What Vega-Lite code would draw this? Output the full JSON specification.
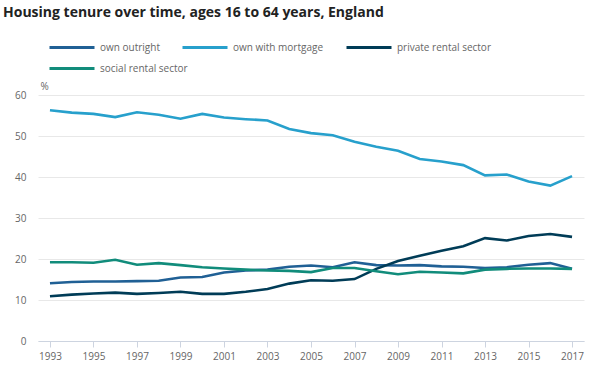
{
  "$schema": "https://vega.github.io/schema/vega-lite/v6.json",
  "width": 546,
  "height": 246,
  "autosize": "none",
  "padding": {"left": 38, "top": 95, "right": 18, "bottom": 34},
  "background": "white",
  "title": {
    "text": "Housing tenure over time, ages 16 to 64 years, England",
    "anchor": "start",
    "frame": "group",
    "font": "Open Sans",
    "fontSize": 14,
    "fontWeight": "bold",
    "color": "#222222",
    "dx": -35,
    "offset": 4
  },
  "config": {
    "view": {"stroke": null},
    "font": "Open Sans",
    "legend": {
      "title": null,
      "orient": "none",
      "direction": "horizontal",
      "columnPadding": 16,
      "symbolType": "stroke",
      "symbolSize": 2025,
      "symbolStrokeWidth": 3,
      "labelFont": "Open Sans",
      "labelFontSize": 10,
      "labelColor": "#666666",
      "labelOffset": 4
    }
  },
  "datasets": {
    "rows": [
      {"year": 1993, "tenure": "own outright", "pct": 14.1},
      {"year": 1994, "tenure": "own outright", "pct": 14.4},
      {"year": 1995, "tenure": "own outright", "pct": 14.5},
      {"year": 1996, "tenure": "own outright", "pct": 14.5},
      {"year": 1997, "tenure": "own outright", "pct": 14.6},
      {"year": 1998, "tenure": "own outright", "pct": 14.7},
      {"year": 1999, "tenure": "own outright", "pct": 15.5},
      {"year": 2000, "tenure": "own outright", "pct": 15.6},
      {"year": 2001, "tenure": "own outright", "pct": 16.7},
      {"year": 2002, "tenure": "own outright", "pct": 17.2},
      {"year": 2003, "tenure": "own outright", "pct": 17.4},
      {"year": 2004, "tenure": "own outright", "pct": 18.1},
      {"year": 2005, "tenure": "own outright", "pct": 18.4},
      {"year": 2006, "tenure": "own outright", "pct": 18.0},
      {"year": 2007, "tenure": "own outright", "pct": 19.2},
      {"year": 2008, "tenure": "own outright", "pct": 18.5},
      {"year": 2009, "tenure": "own outright", "pct": 18.4},
      {"year": 2010, "tenure": "own outright", "pct": 18.5},
      {"year": 2011, "tenure": "own outright", "pct": 18.2},
      {"year": 2012, "tenure": "own outright", "pct": 18.1},
      {"year": 2013, "tenure": "own outright", "pct": 17.8},
      {"year": 2014, "tenure": "own outright", "pct": 18.0},
      {"year": 2015, "tenure": "own outright", "pct": 18.6},
      {"year": 2016, "tenure": "own outright", "pct": 19.0},
      {"year": 2017, "tenure": "own outright", "pct": 17.6},
      {"year": 1993, "tenure": "own with mortgage", "pct": 56.3},
      {"year": 1994, "tenure": "own with mortgage", "pct": 55.7},
      {"year": 1995, "tenure": "own with mortgage", "pct": 55.4},
      {"year": 1996, "tenure": "own with mortgage", "pct": 54.6},
      {"year": 1997, "tenure": "own with mortgage", "pct": 55.8},
      {"year": 1998, "tenure": "own with mortgage", "pct": 55.2},
      {"year": 1999, "tenure": "own with mortgage", "pct": 54.2},
      {"year": 2000, "tenure": "own with mortgage", "pct": 55.4},
      {"year": 2001, "tenure": "own with mortgage", "pct": 54.5},
      {"year": 2002, "tenure": "own with mortgage", "pct": 54.1},
      {"year": 2003, "tenure": "own with mortgage", "pct": 53.8},
      {"year": 2004, "tenure": "own with mortgage", "pct": 51.7},
      {"year": 2005, "tenure": "own with mortgage", "pct": 50.7},
      {"year": 2006, "tenure": "own with mortgage", "pct": 50.2},
      {"year": 2007, "tenure": "own with mortgage", "pct": 48.6},
      {"year": 2008, "tenure": "own with mortgage", "pct": 47.4},
      {"year": 2009, "tenure": "own with mortgage", "pct": 46.4},
      {"year": 2010, "tenure": "own with mortgage", "pct": 44.4},
      {"year": 2011, "tenure": "own with mortgage", "pct": 43.8},
      {"year": 2012, "tenure": "own with mortgage", "pct": 42.9},
      {"year": 2013, "tenure": "own with mortgage", "pct": 40.4},
      {"year": 2014, "tenure": "own with mortgage", "pct": 40.6},
      {"year": 2015, "tenure": "own with mortgage", "pct": 38.9},
      {"year": 2016, "tenure": "own with mortgage", "pct": 37.9},
      {"year": 2017, "tenure": "own with mortgage", "pct": 40.2},
      {"year": 1993, "tenure": "private rental sector", "pct": 10.9},
      {"year": 1994, "tenure": "private rental sector", "pct": 11.3},
      {"year": 1995, "tenure": "private rental sector", "pct": 11.6},
      {"year": 1996, "tenure": "private rental sector", "pct": 11.8},
      {"year": 1997, "tenure": "private rental sector", "pct": 11.5},
      {"year": 1998, "tenure": "private rental sector", "pct": 11.7},
      {"year": 1999, "tenure": "private rental sector", "pct": 12.0},
      {"year": 2000, "tenure": "private rental sector", "pct": 11.5},
      {"year": 2001, "tenure": "private rental sector", "pct": 11.5},
      {"year": 2002, "tenure": "private rental sector", "pct": 12.0},
      {"year": 2003, "tenure": "private rental sector", "pct": 12.7},
      {"year": 2004, "tenure": "private rental sector", "pct": 14.0},
      {"year": 2005, "tenure": "private rental sector", "pct": 14.8},
      {"year": 2006, "tenure": "private rental sector", "pct": 14.7},
      {"year": 2007, "tenure": "private rental sector", "pct": 15.1},
      {"year": 2008, "tenure": "private rental sector", "pct": 17.6},
      {"year": 2009, "tenure": "private rental sector", "pct": 19.5},
      {"year": 2010, "tenure": "private rental sector", "pct": 20.8},
      {"year": 2011, "tenure": "private rental sector", "pct": 22.0},
      {"year": 2012, "tenure": "private rental sector", "pct": 23.1},
      {"year": 2013, "tenure": "private rental sector", "pct": 25.1},
      {"year": 2014, "tenure": "private rental sector", "pct": 24.5},
      {"year": 2015, "tenure": "private rental sector", "pct": 25.6},
      {"year": 2016, "tenure": "private rental sector", "pct": 26.1},
      {"year": 2017, "tenure": "private rental sector", "pct": 25.4},
      {"year": 1993, "tenure": "social rental sector", "pct": 19.2},
      {"year": 1994, "tenure": "social rental sector", "pct": 19.2},
      {"year": 1995, "tenure": "social rental sector", "pct": 19.1},
      {"year": 1996, "tenure": "social rental sector", "pct": 19.8},
      {"year": 1997, "tenure": "social rental sector", "pct": 18.6},
      {"year": 1998, "tenure": "social rental sector", "pct": 19.0},
      {"year": 1999, "tenure": "social rental sector", "pct": 18.5},
      {"year": 2000, "tenure": "social rental sector", "pct": 18.0},
      {"year": 2001, "tenure": "social rental sector", "pct": 17.7},
      {"year": 2002, "tenure": "social rental sector", "pct": 17.4},
      {"year": 2003, "tenure": "social rental sector", "pct": 17.2},
      {"year": 2004, "tenure": "social rental sector", "pct": 17.1},
      {"year": 2005, "tenure": "social rental sector", "pct": 16.8},
      {"year": 2006, "tenure": "social rental sector", "pct": 17.8},
      {"year": 2007, "tenure": "social rental sector", "pct": 17.8},
      {"year": 2008, "tenure": "social rental sector", "pct": 17.0},
      {"year": 2009, "tenure": "social rental sector", "pct": 16.3},
      {"year": 2010, "tenure": "social rental sector", "pct": 16.9},
      {"year": 2011, "tenure": "social rental sector", "pct": 16.7},
      {"year": 2012, "tenure": "social rental sector", "pct": 16.5},
      {"year": 2013, "tenure": "social rental sector", "pct": 17.4},
      {"year": 2014, "tenure": "social rental sector", "pct": 17.6},
      {"year": 2015, "tenure": "social rental sector", "pct": 17.7},
      {"year": 2016, "tenure": "social rental sector", "pct": 17.7},
      {"year": 2017, "tenure": "social rental sector", "pct": 17.6}
    ]
  },
  "data": {"name": "rows"},
  "encoding": {
    "x": {
      "field": "year",
      "type": "quantitative",
      "scale": {"domain": [1992.45, 2017.55], "nice": false, "zero": false},
      "axis": {
        "title": null,
        "values": [1993, 1995, 1997, 1999, 2001, 2003, 2005, 2007, 2009, 2011, 2013, 2015, 2017],
        "format": "d",
        "grid": false,
        "domainColor": "#cdd4e0",
        "tickColor": "#cdd4e0",
        "tickSize": 6,
        "labelFont": "Open Sans",
        "labelFontSize": 10,
        "labelColor": "#666666",
        "labelPadding": 4
      }
    },
    "y": {
      "field": "pct",
      "type": "quantitative",
      "scale": {"domain": [0, 60], "nice": false},
      "axis": {
        "title": "%",
        "titleAngle": 0,
        "titleAlign": "left",
        "titleBaseline": "bottom",
        "titleX": 2,
        "titleY": -4,
        "titleFont": "Open Sans",
        "titleFontSize": 10,
        "titleFontWeight": "normal",
        "titleColor": "#666666",
        "values": [0, 10, 20, 30, 40, 50, 60],
        "domain": false,
        "ticks": false,
        "gridColor": "#e8e8e8",
        "gridWidth": 1,
        "labelFont": "Open Sans",
        "labelFontSize": 10,
        "labelColor": "#666666",
        "labelPadding": 12
      }
    }
  },
  "layer": [
    {
      "transform": [{"filter": "datum.tenure !== 'social rental sector'"}],
      "mark": {"type": "line", "strokeWidth": 2.6},
      "encoding": {
        "color": {
          "field": "tenure",
          "type": "nominal",
          "scale": {
            "domain": ["own outright", "own with mortgage", "private rental sector"],
            "range": ["#206095", "#27a0cc", "#003c57"]
          },
          "legend": {"legendX": 10, "legendY": -71.5}
        }
      }
    },
    {
      "transform": [{"filter": "datum.tenure === 'social rental sector'"}],
      "mark": {"type": "line", "strokeWidth": 2.6},
      "encoding": {
        "stroke": {
          "field": "tenure",
          "type": "nominal",
          "scale": {
            "domain": ["social rental sector"],
            "range": ["#118c7b"]
          },
          "legend": {"legendX": 10, "legendY": -50.5}
        }
      }
    }
  ]
}
